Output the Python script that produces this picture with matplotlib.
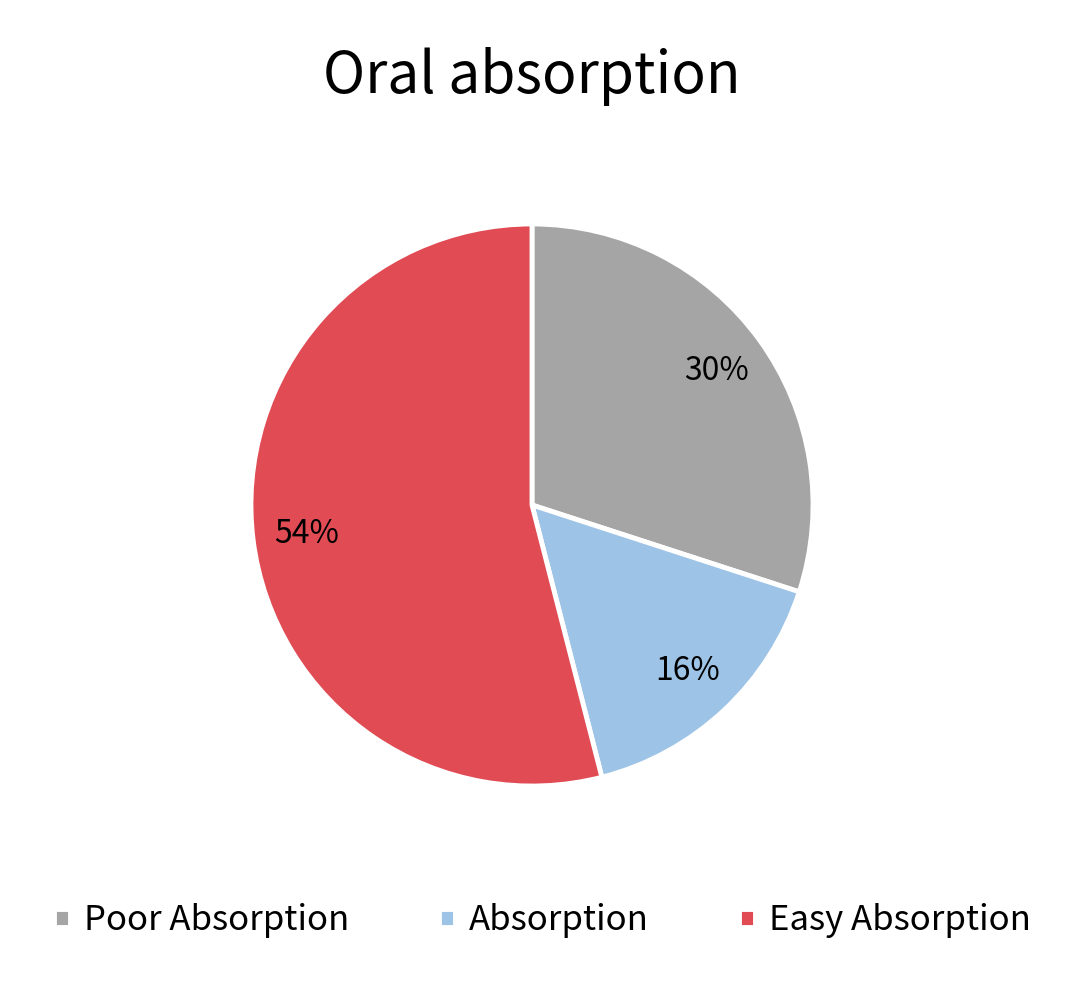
import matplotlib.pyplot as plt

plt.rcParams['font.family'] = ['Noto Sans CJK SC', 'DejaVu Sans']

categories = ["Poor Absorption", "Absorption", "Easy Absorption"]
shares = [30, 16, 54]
colors = ["#A5A5A5", "#9DC3E6", "#E04B54"]

fig = plt.figure(figsize=(10.85, 9.85), dpi=100)
ax = fig.add_axes([(532 - 283) / 1085, 1 - (505 + 283) / 985, 566 / 1085, 566 / 985])

wedges, texts, autotexts = ax.pie(
    shares, colors=colors, startangle=90, counterclock=False,
    autopct="%d%%", pctdistance=0.81,
    wedgeprops=dict(edgecolor="white", linewidth=3.5),
    textprops=dict(fontsize=23, color="black"))
ax.set_xlim(-1.007, 1.007)
ax.set_ylim(-1.007, 1.007)
ax.set_aspect("equal")

fig.text(532 / 1085, 1 - 76 / 985, "Oral absorption", fontsize=41,
         ha="center", va="center")

fig.legend(wedges, categories, loc="center", bbox_to_anchor=(0.5, 1 - 921 / 985),
           ncol=3, frameon=False, fontsize=25, handlelength=0.45, handleheight=0.45,
           handletextpad=0.4, columnspacing=2.6)

fig.savefig("out.png", dpi=100)
